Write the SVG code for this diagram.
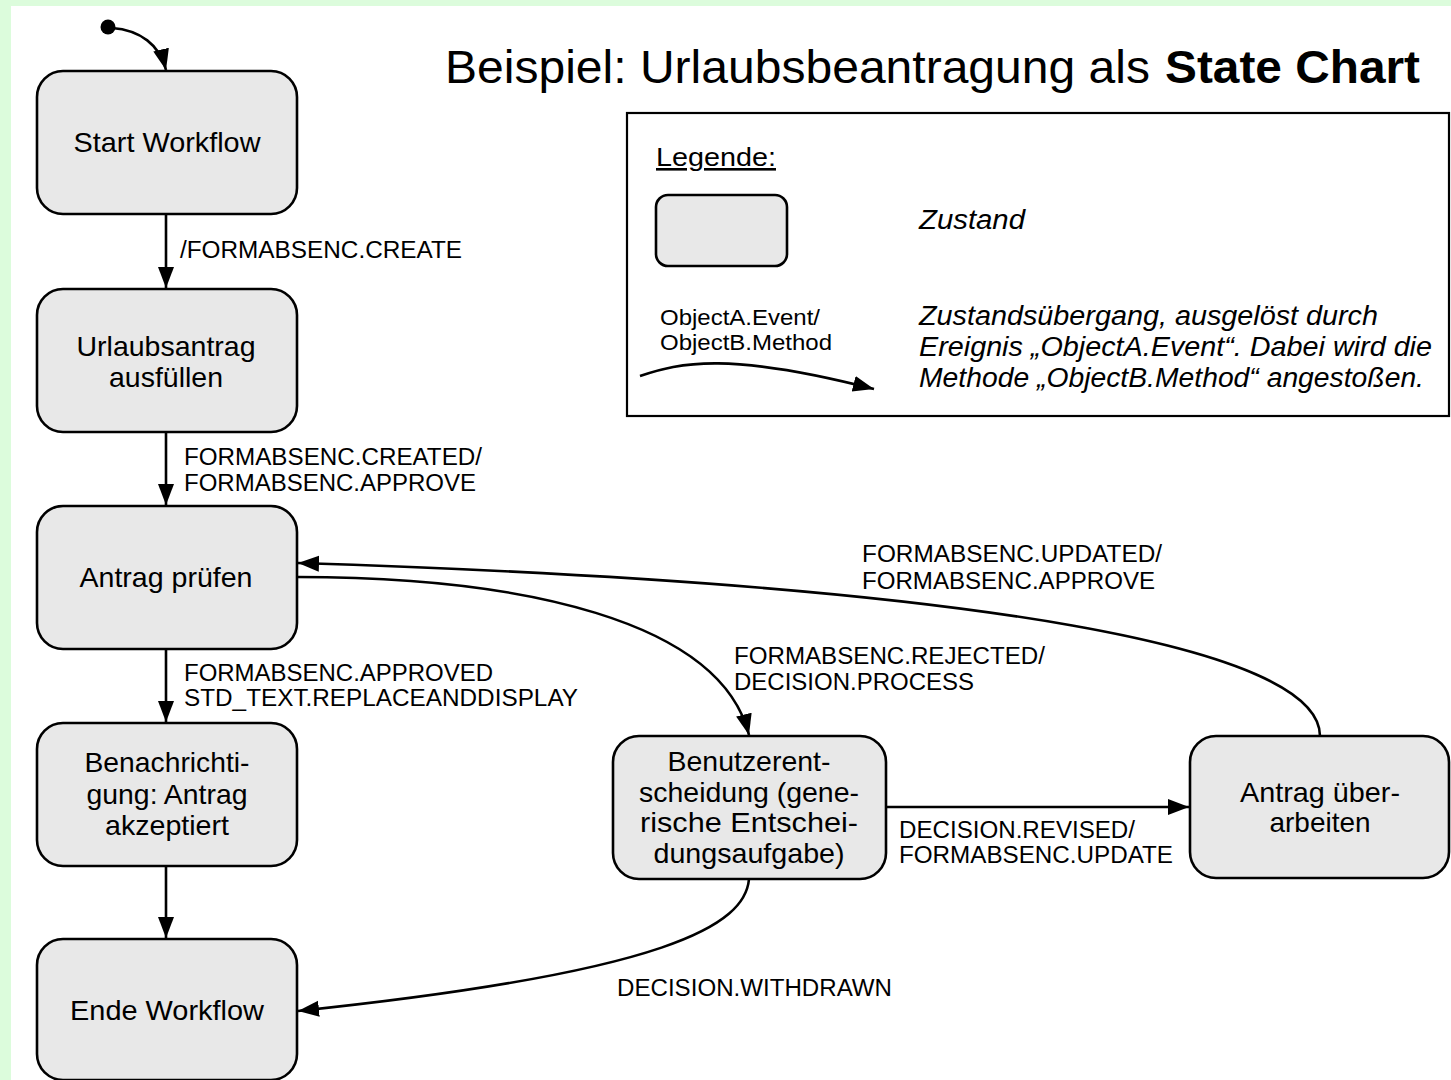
<svg xmlns="http://www.w3.org/2000/svg" width="1451" height="1080" viewBox="0 0 1451 1080">
<style>
text{font-family:"Liberation Sans",Arial,sans-serif;fill:#000}
.node{fill:#e8e8e8;stroke:#000;stroke-width:2.6}
.nt{font-size:28px;text-anchor:middle}
.lb{font-size:23px}
.edge{fill:none;stroke:#000;stroke-width:2.6}
.it{font-style:italic;font-size:27px}
</style>
<defs>
<marker id="ah" markerUnits="userSpaceOnUse" markerWidth="22" markerHeight="18" refX="21" refY="8" orient="auto" viewBox="0 0 22 16">
<path d="M0,0 L21,8 L0,16 z" fill="#000"/>
</marker>
</defs>
<rect x="0" y="0" width="1451" height="1080" fill="#dcfcdc"/>
<rect x="11" y="6" width="1440" height="1074" fill="#ffffff"/>

<g id="title">
<text x="445" y="83" font-size="46" textLength="705" lengthAdjust="spacingAndGlyphs">Beispiel: Urlaubsbeantragung als</text>
<text x="1165" y="83" font-size="46" font-weight="bold" textLength="255" lengthAdjust="spacingAndGlyphs">State Chart</text>
</g>

<g id="legend">
<rect x="627" y="113" width="822" height="303" fill="#fff" stroke="#000" stroke-width="2.2"/>
<text x="656" y="166" font-size="26" text-decoration="underline" textLength="120" lengthAdjust="spacingAndGlyphs">Legende:</text>
<rect x="656" y="195" width="131" height="71" rx="12" class="node"/>
<text x="919" y="229" class="it" textLength="106" lengthAdjust="spacingAndGlyphs">Zustand</text>
<text x="660" y="325" font-size="22" textLength="160" lengthAdjust="spacingAndGlyphs">ObjectA.Event/</text>
<text x="660" y="350" font-size="22" textLength="172" lengthAdjust="spacingAndGlyphs">ObjectB.Method</text>
<path d="M640,376 C680,362 730,352 874,389" class="edge" marker-end="url(#ah)"/>
<text x="919" y="325" class="it" textLength="459" lengthAdjust="spacingAndGlyphs">Zustandsübergang, ausgelöst durch</text>
<text x="919" y="356" class="it" textLength="513" lengthAdjust="spacingAndGlyphs">Ereignis „ObjectA.Event“. Dabei wird die</text>
<text x="919" y="387" class="it" textLength="505" lengthAdjust="spacingAndGlyphs">Methode „ObjectB.Method“ angestoßen.</text>
</g>

<g id="connectors">
<circle cx="108" cy="27" r="7.5" fill="#000"/>
<path d="M112,28 C140,30 160,45 166,70" class="edge" marker-end="url(#ah)"/>
<path d="M166,214 L166,288" class="edge" marker-end="url(#ah)"/>
<path d="M166,432 L166,505" class="edge" marker-end="url(#ah)"/>
<path d="M166,649 L166,722" class="edge" marker-end="url(#ah)"/>
<path d="M166,866 L166,938" class="edge" marker-end="url(#ah)"/>
<path d="M297,577 C520,577 720,620 749,735" class="edge" marker-end="url(#ah)"/>
<path d="M1320,736 C1320,650 1000,585 298,563" class="edge" marker-end="url(#ah)"/>
<path d="M886,807 L1189,807" class="edge" marker-end="url(#ah)"/>
<path d="M749,879 C745,925 670,972 298,1011" class="edge" marker-end="url(#ah)"/>
<text x="180" y="258" class="lb" textLength="282" lengthAdjust="spacingAndGlyphs">/FORMABSENC.CREATE</text>
<text x="184" y="465" class="lb" textLength="298" lengthAdjust="spacingAndGlyphs">FORMABSENC.CREATED/</text>
<text x="184" y="491" class="lb" textLength="292" lengthAdjust="spacingAndGlyphs">FORMABSENC.APPROVE</text>
<text x="184" y="681" class="lb" textLength="309" lengthAdjust="spacingAndGlyphs">FORMABSENC.APPROVED</text>
<text x="184" y="706" class="lb" textLength="394" lengthAdjust="spacingAndGlyphs">STD_TEXT.REPLACEANDDISPLAY</text>
<text x="862" y="562" class="lb" textLength="300" lengthAdjust="spacingAndGlyphs">FORMABSENC.UPDATED/</text>
<text x="862" y="589" class="lb" textLength="293" lengthAdjust="spacingAndGlyphs">FORMABSENC.APPROVE</text>
<text x="734" y="664" class="lb" textLength="311" lengthAdjust="spacingAndGlyphs">FORMABSENC.REJECTED/</text>
<text x="734" y="690" class="lb" textLength="240" lengthAdjust="spacingAndGlyphs">DECISION.PROCESS</text>
<text x="899" y="838" class="lb" textLength="236" lengthAdjust="spacingAndGlyphs">DECISION.REVISED/</text>
<text x="899" y="863" class="lb" textLength="274" lengthAdjust="spacingAndGlyphs">FORMABSENC.UPDATE</text>
<text x="617" y="996" class="lb" textLength="275" lengthAdjust="spacingAndGlyphs">DECISION.WITHDRAWN</text>
</g>

<g id="start">
<rect x="37" y="71" width="260" height="143" rx="26" class="node"/>
<text x="167" y="152" class="nt" textLength="187" lengthAdjust="spacingAndGlyphs">Start Workflow</text>
</g>
<g id="urlaubsantrag">
<rect x="37" y="289" width="260" height="143" rx="26" class="node"/>
<text x="166" y="356" class="nt" textLength="179" lengthAdjust="spacingAndGlyphs">Urlaubsantrag</text>
<text x="166" y="387" class="nt" textLength="114" lengthAdjust="spacingAndGlyphs">ausfüllen</text>
</g>
<g id="pruefen">
<rect x="37" y="506" width="260" height="143" rx="26" class="node"/>
<text x="166" y="587" class="nt" textLength="173" lengthAdjust="spacingAndGlyphs">Antrag prüfen</text>
</g>
<g id="benachrichtigung">
<rect x="37" y="723" width="260" height="143" rx="26" class="node"/>
<text x="167" y="772" class="nt" textLength="165" lengthAdjust="spacingAndGlyphs">Benachrichti-</text>
<text x="167" y="804" class="nt" textLength="161" lengthAdjust="spacingAndGlyphs">gung: Antrag</text>
<text x="167" y="835" class="nt" textLength="124" lengthAdjust="spacingAndGlyphs">akzeptiert</text>
</g>
<g id="ende">
<rect x="37" y="939" width="260" height="141" rx="26" class="node"/>
<text x="167" y="1020" class="nt" textLength="194" lengthAdjust="spacingAndGlyphs">Ende Workflow</text>
</g>
<g id="benutzerentscheidung">
<rect x="613" y="736" width="273" height="143" rx="26" class="node"/>
<text x="749" y="771" class="nt" textLength="163" lengthAdjust="spacingAndGlyphs">Benutzerent-</text>
<text x="749" y="802" class="nt" textLength="220" lengthAdjust="spacingAndGlyphs">scheidung (gene-</text>
<text x="749" y="832" class="nt" textLength="218" lengthAdjust="spacingAndGlyphs">rische Entschei-</text>
<text x="749" y="863" class="nt" textLength="191" lengthAdjust="spacingAndGlyphs">dungsaufgabe)</text>
</g>
<g id="ueberarbeiten">
<rect x="1190" y="736" width="259" height="142" rx="26" class="node"/>
<text x="1320" y="802" class="nt" textLength="160" lengthAdjust="spacingAndGlyphs">Antrag über-</text>
<text x="1320" y="832" class="nt" textLength="101" lengthAdjust="spacingAndGlyphs">arbeiten</text>
</g>
</svg>
